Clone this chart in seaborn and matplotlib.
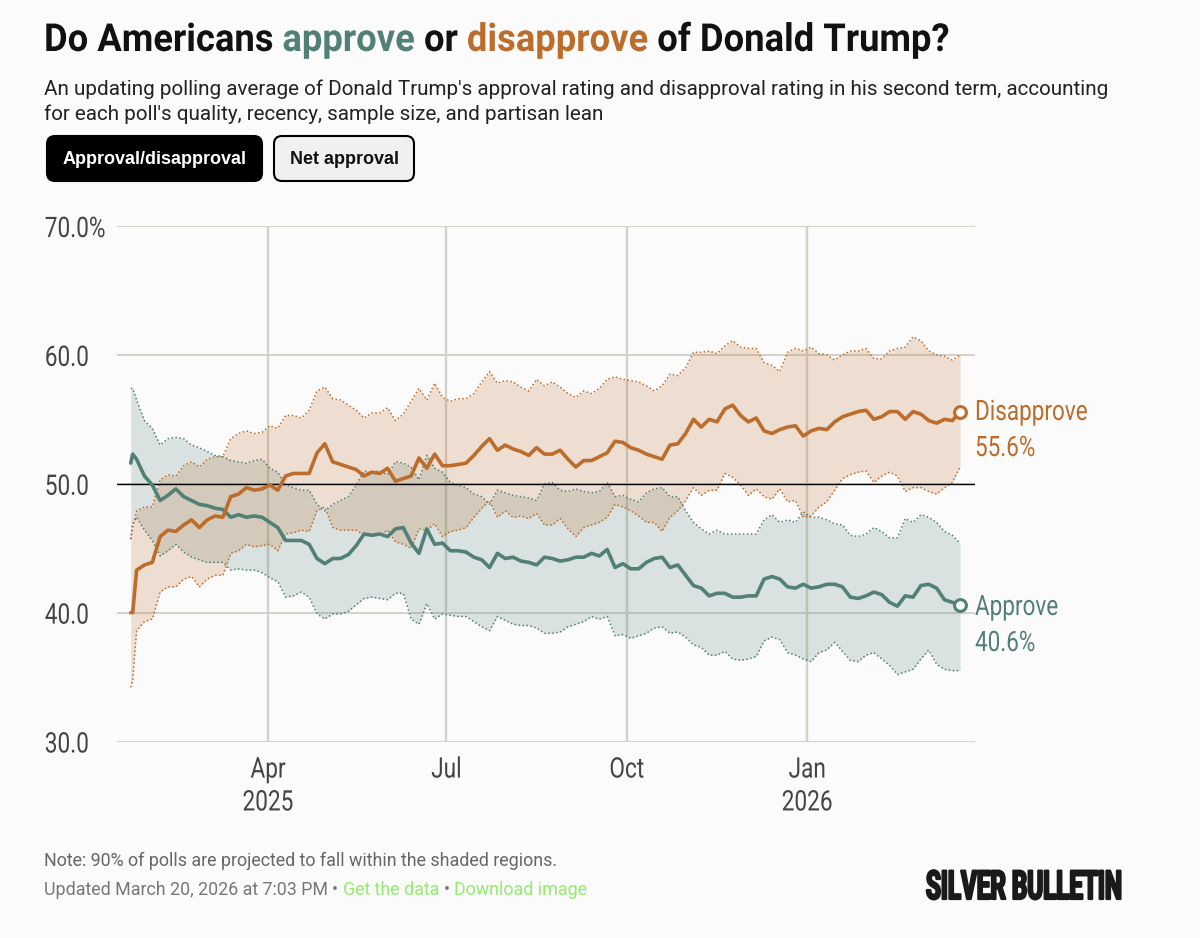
import numpy as np
import pandas as pd
import matplotlib
matplotlib.use("Agg")
import matplotlib.pyplot as plt
import matplotlib.dates as mdates
import matplotlib.patheffects as pe
from matplotlib.patches import FancyBboxPatch
from matplotlib.transforms import Affine2D
import seaborn as sns

APPROVE_COLOR = "#527F76"
DISAPPROVE_COLOR = "#BC6C2B"
GRID_COLOR = "#D2D2C8"
BG = "#FBFBFB"
FONT = "Roboto"

# days since the first polling day
days = [0, 1] + list(range(3, 424, 4))

disapprove = [
    40.0, 40.0, 43.3, 43.7, 43.9, 45.9, 46.4, 46.3, 46.8, 47.2, 46.6, 47.2, 47.5, 47.4, 49.0, 49.2, 49.7, 49.5, 49.6, 49.9,
    49.5, 50.6, 50.8, 50.8, 50.8, 52.4, 53.1, 51.7, 51.5, 51.3, 51.1, 50.6, 50.9, 50.8, 51.2, 50.2, 50.4, 50.6, 52.0, 51.2,
    52.3, 51.4, 51.4, 51.5, 51.6, 52.2, 52.9, 53.5, 52.6, 53.0, 52.7, 52.5, 52.2, 52.8, 52.3, 52.3, 52.6, 51.9, 51.3, 51.8,
    51.8, 52.1, 52.4, 53.3, 53.2, 52.8, 52.6, 52.3, 52.1, 51.9, 53.0, 53.1, 53.9, 55.0, 54.4, 55.0, 54.8, 55.8, 56.1, 55.3,
    54.8, 55.1, 54.1, 53.9, 54.2, 54.4, 54.5, 53.7, 54.1, 54.3, 54.2, 54.8, 55.2, 55.4, 55.6, 55.7, 55.0, 55.2, 55.6, 55.6,
    55.0, 55.6, 55.4, 54.9, 54.7, 55.0, 54.9, 55.6,
]
disapprove_hi = [
    45.7, 46.6, 47.9, 48.2, 48.2, 50.3, 50.7, 50.6, 51.4, 51.7, 51.3, 51.9, 52.1, 52.1, 53.5, 53.9, 54.1, 53.9, 54.0, 54.5,
    54.3, 55.3, 55.3, 55.1, 55.7, 57.2, 57.5, 56.6, 56.5, 56.1, 55.7, 55.1, 55.5, 55.5, 55.9, 54.9, 55.4, 56.4, 57.4, 56.5,
    57.8, 56.7, 56.4, 56.6, 56.6, 57.0, 57.9, 58.7, 57.8, 58.0, 57.9, 57.5, 57.2, 58.1, 57.6, 57.9, 57.5, 57.0, 56.7, 57.2,
    57.0, 57.4, 58.1, 58.3, 58.1, 58.0, 57.9, 57.6, 57.2, 57.6, 58.5, 58.4, 59.0, 60.2, 60.2, 60.3, 60.1, 60.7, 61.1, 60.6,
    60.5, 60.5, 59.4, 59.2, 58.7, 60.2, 60.5, 60.3, 60.6, 60.1, 60.0, 59.6, 60.0, 60.3, 60.3, 60.5, 59.7, 59.7, 60.3, 60.5,
    60.6, 61.4, 61.1, 60.3, 60.0, 59.9, 59.6, 60.0,
]
disapprove_lo = [
    34.2, 34.8, 38.6, 39.3, 39.5, 41.6, 42.0, 42.0, 42.6, 42.8, 42.0, 42.6, 42.9, 42.9, 44.6, 44.8, 45.3, 45.1, 45.2, 45.3,
    44.8, 46.1, 46.2, 46.4, 46.3, 47.9, 48.2, 46.6, 46.4, 46.4, 46.4, 46.0, 46.1, 46.0, 46.4, 45.5, 45.3, 45.0, 46.5, 46.4,
    46.9, 45.9, 46.3, 46.4, 46.6, 47.4, 48.1, 48.7, 47.4, 47.9, 47.4, 47.5, 47.3, 47.7, 46.8, 46.8, 47.3, 46.5, 45.9, 46.6,
    46.8, 47.0, 47.4, 48.4, 48.2, 47.9, 47.5, 47.0, 47.0, 46.3, 47.4, 47.9, 48.7, 49.7, 49.1, 49.5, 49.5, 50.8, 50.5, 49.9,
    49.1, 49.6, 49.0, 48.8, 49.6, 48.6, 48.7, 47.4, 47.5, 48.2, 48.6, 49.5, 50.4, 50.7, 50.9, 51.0, 50.1, 50.6, 50.9, 50.6,
    49.4, 49.7, 49.7, 49.4, 49.2, 49.7, 50.1, 51.3,
]
approve = [
    51.6, 52.3, 51.9, 50.6, 49.9, 48.7, 49.1, 49.6, 49.0, 48.7, 48.4, 48.3, 48.1, 48.0, 47.4, 47.6, 47.4, 47.5, 47.4, 47.0,
    46.6, 45.6, 45.6, 45.6, 45.3, 44.2, 43.8, 44.2, 44.2, 44.5, 45.2, 46.1, 46.0, 46.1, 45.9, 46.5, 46.6, 45.4, 44.6, 46.5,
    45.3, 45.4, 44.8, 44.8, 44.7, 44.3, 44.1, 43.5, 44.6, 44.2, 44.3, 44.0, 43.9, 43.7, 44.3, 44.2, 44.0, 44.1, 44.3, 44.3,
    44.6, 44.4, 44.9, 43.5, 43.8, 43.4, 43.4, 43.9, 44.2, 44.3, 43.5, 43.7, 42.9, 42.1, 41.9, 41.3, 41.5, 41.5, 41.2, 41.2,
    41.3, 41.3, 42.6, 42.8, 42.6, 42.0, 41.9, 42.2, 41.9, 42.0, 42.2, 42.2, 42.0, 41.2, 41.1, 41.3, 41.6, 41.4, 40.8, 40.5,
    41.3, 41.2, 42.1, 42.2, 41.9, 41.0, 40.8, 40.6,
]
approve_hi = [
    57.4, 57.4, 56.5, 54.9, 54.3, 53.0, 53.5, 53.6, 53.5, 53.0, 52.8, 52.5, 52.2, 52.1, 51.8, 51.7, 51.6, 51.8, 51.9, 51.2,
    50.9, 49.9, 49.7, 49.5, 49.5, 48.4, 47.9, 48.4, 48.7, 49.0, 49.9, 51.0, 50.9, 51.0, 50.7, 51.7, 51.6, 51.3, 50.3, 52.2,
    51.2, 50.9, 50.1, 49.9, 49.7, 49.2, 49.0, 48.4, 49.5, 49.3, 49.1, 49.0, 48.9, 48.7, 50.0, 50.1, 49.5, 49.4, 49.6, 49.4,
    49.3, 49.4, 50.1, 49.0, 49.1, 48.8, 48.6, 49.3, 49.6, 49.7, 49.0, 49.0, 47.9, 47.0, 46.5, 46.1, 46.4, 46.1, 46.1, 46.1,
    46.1, 46.1, 47.2, 47.6, 47.0, 47.2, 47.0, 47.8, 47.4, 47.4, 47.2, 46.9, 46.8, 46.0, 45.9, 46.1, 46.6, 46.3, 45.8, 45.8,
    47.3, 47.0, 47.6, 47.4, 47.0, 46.3, 46.0, 45.4,
]
approve_lo = [
    45.7, 46.9, 47.4, 46.4, 45.6, 44.4, 44.8, 45.3, 44.7, 44.3, 44.1, 43.9, 43.9, 43.9, 43.3, 43.4, 43.3, 43.3, 43.1, 42.7,
    42.4, 41.2, 41.3, 41.6, 41.2, 39.9, 39.5, 39.9, 39.9, 40.1, 40.6, 41.1, 41.2, 41.1, 41.0, 41.5, 41.5, 39.5, 39.1, 40.7,
    39.5, 39.9, 39.8, 39.7, 39.7, 39.3, 38.9, 38.6, 39.7, 39.4, 39.1, 39.0, 39.0, 38.8, 38.4, 38.4, 38.5, 38.9, 39.1, 39.3,
    39.7, 39.5, 39.7, 38.2, 38.3, 38.0, 38.2, 38.4, 38.8, 38.9, 38.4, 38.5, 38.1, 37.5, 37.3, 36.7, 36.7, 37.0, 36.4, 36.3,
    36.4, 36.6, 37.8, 38.1, 37.9, 36.9, 36.7, 36.4, 36.2, 36.9, 37.1, 37.7, 37.0, 36.3, 36.2, 36.7, 36.9, 36.4, 35.9, 35.2,
    35.4, 35.6, 36.4, 37.1, 36.0, 35.6, 35.5, 35.5,
]

y_ticks = [30, 40, 50, 60, 70]
y_labels = ["30.0", "40.0", "50.0", "60.0", "70.0%"]
x_ticks = ["2025-04-01", "2025-07-01", "2025-10-01", "2026-01-01"]
x_labels = ["Apr\n2025", "Jul", "Oct", "Jan\n2026"]

df = pd.DataFrame({
    "date": pd.Timestamp("2025-01-21") + pd.to_timedelta(days, unit="D"),
    "approve": approve, "approve_hi": approve_hi, "approve_lo": approve_lo,
    "disapprove": disapprove, "disapprove_hi": disapprove_hi, "disapprove_lo": disapprove_lo,
})


class Tall(pe.AbstractPathEffect):
    # no condensed font here, so stretch the glyphs upward from a smaller size
    def __init__(self, sy, dy=0, stroke=0):
        super().__init__()
        self.sy, self.dy, self.stroke = sy, dy, stroke

    def draw_path(self, renderer, gc, tpath, affine, rgbFace=None):
        aff = Affine2D().scale(1, self.sy) + affine + Affine2D().translate(0, self.dy)
        if self.stroke:
            gc0 = renderer.new_gc()
            gc0.copy_properties(gc)
            gc0.set_foreground(rgbFace)
            gc0.set_linewidth(self.stroke)
            renderer.draw_path(gc0, tpath, aff, rgbFace)
            gc0.restore()
        else:
            renderer.draw_path(gc, tpath, aff, rgbFace)


sns.set_theme(style="white", rc={"figure.facecolor": BG, "axes.facecolor": BG})
W, H = 1200, 938
fig = plt.figure(figsize=(W / 100, H / 100), dpi=100)
ax = fig.add_axes([117 / W, 1 - 741.5 / H, (975 - 117) / W, (741.5 - 226) / H])


def fig_text(x, y, s, **kw):
    # x, y in pixels from the top left
    return fig.text(x / W, 1 - y / H, s, **kw)


def run_text(x, y, parts, **kw):
    # text pieces in different colours, one after the other
    r = fig.canvas.get_renderer()
    for s, c in parts:
        t = fig_text(x, y, s, color=c, **kw)
        x += t.get_window_extent(r).width
    return x


# bands and lines
for name, col in [("approve", APPROVE_COLOR), ("disapprove", DISAPPROVE_COLOR)]:
    ax.fill_between(df["date"], df[name + "_lo"], df[name + "_hi"], color=col, alpha=0.2, lw=0, zorder=2)
    for side in ["_hi", "_lo"]:
        sns.lineplot(data=df, x="date", y=name + side, ax=ax, color=col, lw=1.1,
                     linestyle=(0, (1, 1.6)), zorder=3)
ax.axhline(50, color="black", lw=1, zorder=4)
for name, col in [("approve", APPROVE_COLOR), ("disapprove", DISAPPROVE_COLOR)]:
    sns.lineplot(data=df, x="date", y=name, ax=ax, color=col, lw=2.6, zorder=5,
                 solid_joinstyle="round")
    ax.plot(df["date"].iloc[-1], df[name].iloc[-1], "o", ms=8.5, mfc=BG, mec=col, mew=2.2,
            zorder=6, clip_on=False)

ax.set_xlim(pd.Timestamp("2025-01-14"), pd.Timestamp("2026-03-27 14:00"))
ax.set_ylim(30, 70)
ax.set_xlabel("")
ax.set_ylabel("")
ax.set_axisbelow(True)
ax.grid(True, axis="y", color=GRID_COLOR, lw=1.4)
ax.grid(True, axis="x", color=GRID_COLOR, lw=1.7)
ax.set_yticks(y_ticks, labels=y_labels)
ax.set_xticks(mdates.date2num(pd.to_datetime(x_ticks)), labels=x_labels)
ax.tick_params(axis="y", length=0, pad=52, labelsize=16.3, labelcolor="#444444")
ax.tick_params(axis="x", length=0, pad=13, labelsize=16.3, labelcolor="#444444")
for lab in ax.get_yticklabels():
    lab.set_ha("left")
    lab.set_family(FONT)
    lab.set_path_effects([Tall(1.25, dy=-2)])
for lab in ax.get_xticklabels():
    lab.set_family(FONT)
    lab.set_linespacing(1.55)
    lab.set_path_effects([Tall(1.25)])
sns.despine(ax=ax, left=True, bottom=True)

# end labels
for y, s, col in [(420, "Disapprove", DISAPPROVE_COLOR), (456, "55.6%", DISAPPROVE_COLOR),
                  (615, "Approve", APPROVE_COLOR), (651, "40.6%", APPROVE_COLOR)]:
    fig_text(975, y, s, color=col, fontsize=16.2, family=FONT, path_effects=[Tall(1.25)])

# header
run_text(44, 51, [("Do Americans ", "#111111"), ("approve ", APPROVE_COLOR), ("or ", "#111111"),
                  ("disapprove ", DISAPPROVE_COLOR), ("of Donald Trump?", "#111111")],
         fontsize=26.2, fontweight="bold", family=FONT, path_effects=[Tall(1.06)])
fig_text(44, 95, "An updating polling average of Donald Trump's approval rating and disapproval rating in his second term, accounting",
         fontsize=14.88, color="#222222", family=FONT)
fig_text(44, 120, "for each poll's quality, recency, sample size, and partisan lean",
         fontsize=14.88, color="#222222", family=FONT)

# toggle buttons
for x0, x1, fc, ec in [(47, 262, "black", "black"), (274, 414, "#F0F0F0", "black")]:
    fig.add_artist(FancyBboxPatch((x0 + 8, H - 181 + 8), x1 - x0 - 16, 45 - 16,
                                  boxstyle="round,pad=8,rounding_size=8", fc=fc, ec=ec, lw=1.5,
                                  transform=None))
fig_text(154.5, 159, "Approval/disapproval", color="white", fontsize=13, fontweight="bold",
         family="Liberation Sans", ha="center", va="center")
fig_text(344, 159, "Net approval", color="#111111", fontsize=13, fontweight="bold",
         family="Liberation Sans", ha="center", va="center")

# footer
fig_text(44, 866, "Note: 90% of polls are projected to fall within the shaded regions.",
         fontsize=12.83, color="#666666", family=FONT)
run_text(44, 895, [("Updated March 20, 2026 at 7:03 PM ", "#777777"), ("• ", "#777777"),
                   ("Get the data ", "#90EE6A"), ("• ", "#777777"), ("Download image", "#90EE6A")],
         fontsize=12.83, family=FONT)
fig_text(926, 899, "SILVER BULLETIN", fontsize=17.4, fontweight="bold", color="#1A1A1A", family=FONT,
         path_effects=[Tall(1.65, stroke=1.6)])

fig.savefig("out.png", dpi=100, facecolor=BG)
